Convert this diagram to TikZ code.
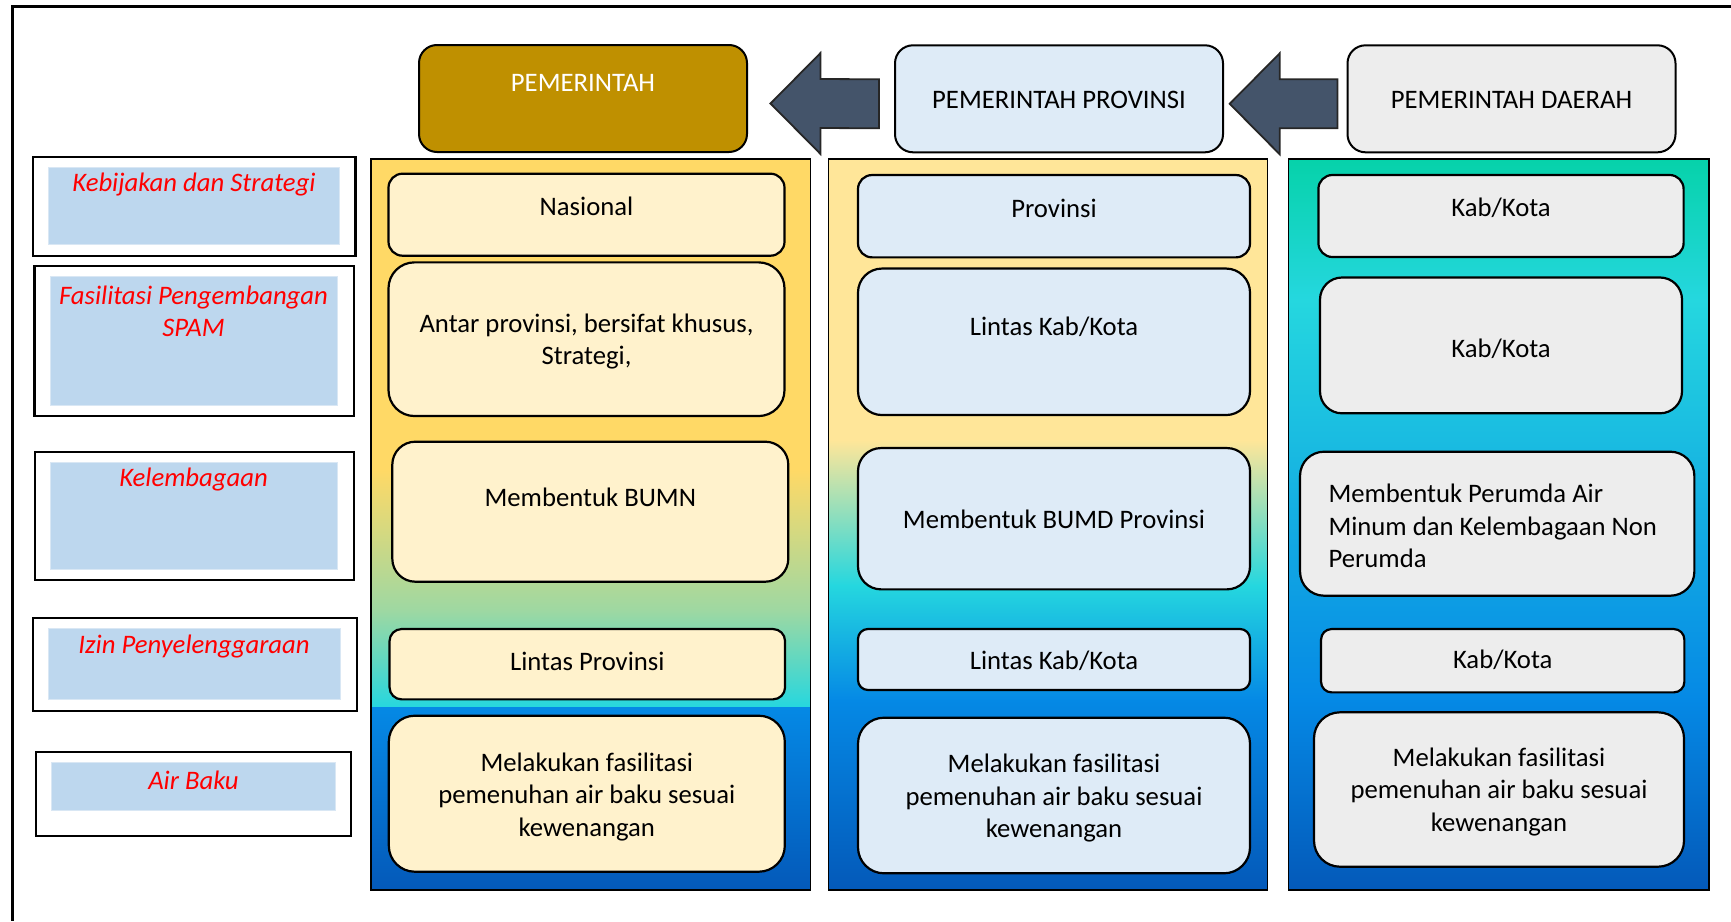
\documentclass[tikz,border=0pt]{standalone}
\usepackage{fontspec}
\setmainfont{Carlito}
\usetikzlibrary{calc}

\definecolor{govgold}{HTML}{BF9000}
\definecolor{provblue}{HTML}{DEEBF7}
\definecolor{dagrey}{HTML}{EDEDED}
\definecolor{natcream}{HTML}{FFF2CC}
\definecolor{arrowslate}{HTML}{44546A}
\definecolor{labelblue}{HTML}{BDD7EE}
\definecolor{labeledge}{HTML}{D9E7F4}
\definecolor{labelred}{HTML}{FF0000}
\definecolor{goldA}{HTML}{FFD966}
\definecolor{goldB}{HTML}{FFE699}
\definecolor{greenmix}{HTML}{9ED8A2}
\definecolor{cyanA}{HTML}{25D7DF}
\definecolor{tealA}{HTML}{06D2AA}
\definecolor{blueA}{HTML}{0589E5}
\definecolor{blueB}{HTML}{0459B9}

\tikzset{
  hdr/.style={draw=black, line width=2pt, rounded corners=18pt,
    minimum width=328pt, minimum height=107pt, inner sep=0pt},
  cell/.style={draw=black, line width=2.2pt, inner sep=0pt},
  txt/.style={font=\fontsize{26.7}{32.5}\selectfont, align=center, inner sep=0pt},
  redtxt/.style={txt, text=labelred, font=\fontsize{26.7}{32.5}\selectfont\itshape},
  colframe/.style={draw=black, line width=1.6pt, inner sep=0pt},
  lblout/.style={draw=black, line width=2.2pt, fill=white, inner sep=0pt},
  lblin/.style={fill=labelblue, draw=labeledge, line width=1pt, inner sep=0pt},
  blockarrow/.style={fill=arrowslate, draw=black!85, line width=1.8pt, line join=miter},
}

\begin{document}
\begin{tikzpicture}[x=1pt,y=-1pt]
\useasboundingbox (0,0) rectangle (1731,921);

% outer frame (top and left edges)
\draw[line width=2.6pt] (1731,6.7) -- (12.7,6.7) -- (12.7,921);

% ---- column backgrounds ----
% national column
\fill[goldA] (371,159) rectangle (810.6,470.5);
\shade[top color=goldA, bottom color=greenmix] (371,470) rectangle (810.6,610.5);
\shade[top color=greenmix, bottom color=cyanA] (371,610) rectangle (810.6,708);
\shade[top color=blueA, bottom color=blueB] (371,707.5) rectangle (810.6,890);
% provincial column
\fill[goldB] (828.3,159) rectangle (1267.5,440.5);
\shade[top color=goldB, bottom color=cyanA] (828.3,440) rectangle (1267.5,585.5);
\shade[top color=cyanA, bottom color=blueA] (828.3,585) rectangle (1267.5,700.5);
\shade[top color=blueA, bottom color=blueB] (828.3,700) rectangle (1267.5,890);
% regional column
\shade[top color=tealA, bottom color=cyanA] (1288.5,159) rectangle (1709,300.5);
\shade[top color=cyanA, bottom color=blueA] (1288.5,300) rectangle (1709,700.5);
\shade[top color=blueA, bottom color=blueB] (1288.5,700) rectangle (1709,890);

% column frames
\node[colframe, minimum width=439.6pt, minimum height=731pt] (colnat) at (590.8,524.5) {};
\node[colframe, minimum width=439.2pt, minimum height=731pt] (colprov) at (1047.9,524.5) {};
\node[colframe, minimum width=420.5pt, minimum height=731pt] (colreg) at (1498.75,524.5) {};

% ---- header boxes ----
\node[hdr, fill=govgold] (gov) at (583,98.5) {};
\node[txt, text=white] (govt) at (583,83) {PEMERINTAH};
\node[hdr, fill=provblue] (prov) at (1059,98.8) {};
\node[txt] (provt) at (1059,100) {PEMERINTAH PROVINSI};
\node[hdr, fill=dagrey] (daerah) at (1511.5,98.8) {};
\node[txt] (daeraht) at (1511.5,100) {PEMERINTAH DAERAH};

% ---- block arrows between headers ----
\coordinate (a1tip) at ($(gov.east)+(22.5,5)$);
\coordinate (a1tail) at ($(prov.west)+(-15,5)$);
\draw[blockarrow] (a1tip) -- ($(a1tip)+(50,-50.5)$) -- ($(a1tip)+(50,-24.5)$)
  -- ($(a1tail)+(0,-24.5)$) -- ($(a1tail)+(0,24.5)$) -- ($(a1tip)+(50,24.5)$)
  -- ($(a1tip)+(50,50.5)$) -- cycle;
\coordinate (a2tip) at ($(prov.east)+(5.7,5)$);
\coordinate (a2tail) at ($(daerah.west)+(-9,5)$);
\draw[blockarrow] (a2tip) -- ($(a2tip)+(50,-50.5)$) -- ($(a2tip)+(50,-24.5)$)
  -- ($(a2tail)+(0,-24.5)$) -- ($(a2tail)+(0,24.5)$) -- ($(a2tip)+(50,24.5)$)
  -- ($(a2tip)+(50,50.5)$) -- cycle;

% ---- national column cells ----
\node[cell, fill=natcream, rounded corners=14pt, minimum width=396pt, minimum height=82pt] (nas) at (586.5,214.7) {};
\node[txt] (nast) at (586.5,206) {Nasional};
\node[cell, fill=natcream, rounded corners=26pt, minimum width=396pt, minimum height=153.7pt] (antar) at (586.5,339.2) {};
\node[txt] (antart) at (586.5,341.5) {Antar provinsi, bersifat khusus,\\Strategi,};
\node[cell, fill=natcream, rounded corners=23pt, minimum width=396pt, minimum height=140pt] (bumn) at (590.3,511.7) {};
\node[txt] (bumnt) at (590.3,497) {Membentuk BUMN};
\node[cell, fill=natcream, rounded corners=12pt, minimum width=395.5pt, minimum height=70.3pt] (lprov) at (587.3,664.2) {};
\node[txt] (lprovt) at (587.3,661) {Lintas Provinsi};
\node[cell, fill=natcream, rounded corners=26pt, minimum width=396pt, minimum height=156pt] (mel1) at (586.8,793.7) {};
\node[txt] (mel1t) at (586.8,797) {Melakukan fasilitasi\\pemenuhan air baku sesuai\\kewenangan};

% ---- provincial column cells ----
\node[cell, fill=provblue, rounded corners=14pt, minimum width=392pt, minimum height=82.3pt] (pv) at (1054,216.2) {};
\node[txt] (pvt) at (1054,208.3) {Provinsi};
\node[cell, fill=provblue, rounded corners=24pt, minimum width=392pt, minimum height=146.5pt] (lkk1) at (1054,341.8) {};
\node[txt] (lkk1t) at (1054,327) {Lintas Kab/Kota};
\node[cell, fill=provblue, rounded corners=23pt, minimum width=392pt, minimum height=141.3pt] (bumd) at (1054,518.7) {};
\node[txt] (bumdt) at (1054,519) {Membentuk BUMD Provinsi};
\node[cell, fill=provblue, rounded corners=10pt, minimum width=392pt, minimum height=61pt] (lkk2) at (1054,659.5) {};
\node[txt] (lkk2t) at (1054,661) {Lintas Kab/Kota};
\node[cell, fill=provblue, rounded corners=26pt, minimum width=392pt, minimum height=155.6pt] (mel2) at (1054,795.5) {};
\node[txt] (mel2t) at (1054,798.5) {Melakukan fasilitasi\\pemenuhan air baku sesuai\\kewenangan};

% ---- regional column cells ----
\node[cell, fill=dagrey, rounded corners=14pt, minimum width=365.2pt, minimum height=82pt] (kk1) at (1501,216) {};
\node[txt] (kk1t) at (1501,208) {Kab/Kota};
\node[cell, fill=dagrey, rounded corners=22pt, minimum width=362pt, minimum height=135.8pt] (kk2) at (1501,345.4) {};
\node[txt] (kk2t) at (1501,349) {Kab/Kota};
\node[cell, fill=dagrey, rounded corners=24pt, minimum width=394.3pt, minimum height=144pt] (perumda) at (1497.2,523.7) {};
\node[txt, align=left, anchor=west] (perumdat) at (1328.3,526) {Membentuk Perumda Air\\Minum dan Kelembagaan Non\\Perumda};
\node[cell, fill=dagrey, rounded corners=10.5pt, minimum width=363.3pt, minimum height=63.3pt] (kk3) at (1502.7,660.7) {};
\node[txt] (kk3t) at (1502.7,660) {Kab/Kota};
\node[cell, fill=dagrey, rounded corners=26pt, minimum width=370pt, minimum height=154.4pt] (mel3) at (1499,789.5) {};
\node[txt] (mel3t) at (1499,792) {Melakukan fasilitasi\\pemenuhan air baku sesuai\\kewenangan};

% ---- row labels ----
\node[lblout, minimum width=322.2pt, minimum height=99pt] (l1) at (194.4,206.2) {};
\node[lblin, minimum width=290.8pt, minimum height=76.3pt] (l1in) at (193.6,205.9) {};
\node[redtxt] (l1t) at (194,185) {Kebijakan dan Strategi};

\node[lblout, minimum width=319.6pt, minimum height=149.7pt] (l2) at (194.2,340.9) {};
\node[lblin, minimum width=287pt, minimum height=129pt] (l2in) at (193.5,340.5) {};
\node[redtxt] (l2t) at (193.5,311.5) {Fasilitasi Pengembangan\\SPAM};

\node[lblout, minimum width=319pt, minimum height=128.3pt] (l3) at (194.2,515.9) {};
\node[lblin, minimum width=287pt, minimum height=107pt] (l3in) at (193.5,515.5) {};
\node[redtxt] (l3t) at (193.5,480) {Kelembagaan};

\node[lblout, minimum width=324.3pt, minimum height=93.3pt] (l4) at (194.9,664.4) {};
\node[lblin, minimum width=292pt, minimum height=71pt] (l4in) at (194,663.5) {};
\node[redtxt] (l4t) at (194,647) {Izin Penyelenggaraan};

\node[lblout, minimum width=315pt, minimum height=84pt] (l5) at (193.5,793.7) {};
\node[lblin, minimum width=283.3pt, minimum height=48.7pt] (l5in) at (193.4,786.4) {};
\node[redtxt] (l5t) at (193.4,780) {Air Baku};
\end{tikzpicture}
\end{document}
